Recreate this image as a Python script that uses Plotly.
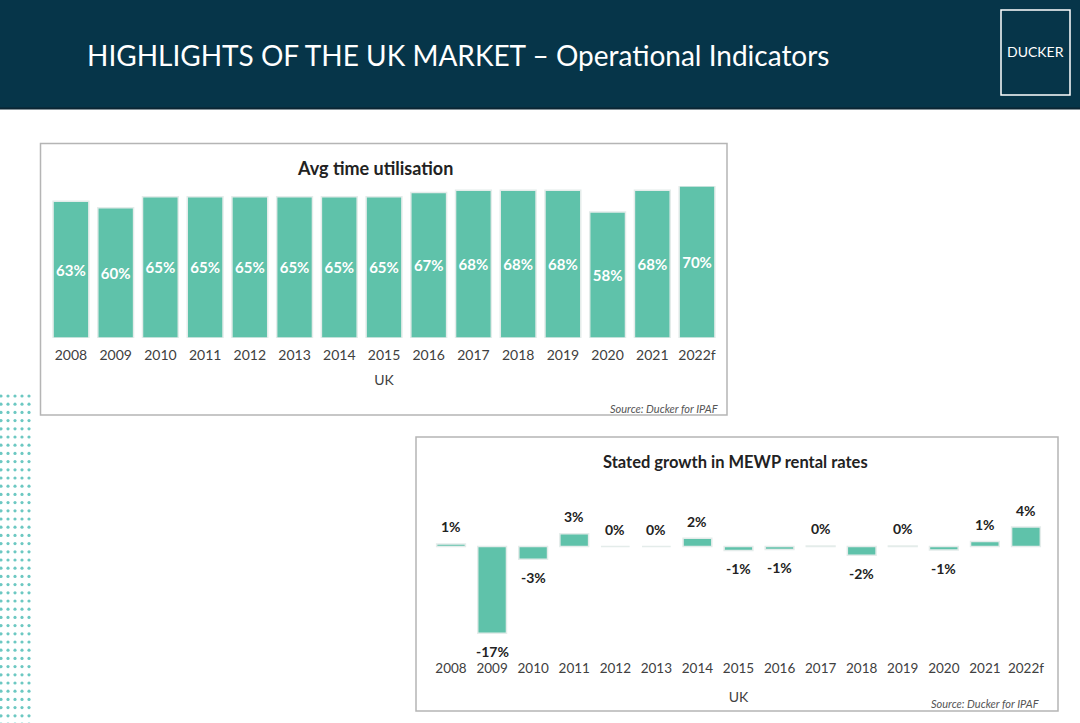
import math
import plotly.graph_objects as go

# ---------------- data ----------------
years = ["2008", "2009", "2010", "2011", "2012", "2013", "2014", "2015",
         "2016", "2017", "2018", "2019", "2020", "2021", "2022f"]
utilisation = [63, 60, 65, 65, 65, 65, 65, 65, 67, 68, 68, 68, 58, 68, 70]
rental_growth = [0.5, -17, -2.5, 2.5, 0, 0, 1.6, -0.8, -0.6, 0.1, -1.7, 0.1, -0.7, 1.0, 3.8]

title_main = "HIGHLIGHTS OF THE UK MARKET – Operational Indicators"
title_top = "Avg time utilisation"
title_bottom = "Stated growth in MEWP rental rates"
source_text = "Source: Ducker for IPAF"

# ---------------- style ----------------
W, H = 1080, 723
FONT = "Lato"
HEADER = "#063549"
BAR = "#5fc2aa"
BAR_EDGE = "#e4ecea"
TXT = "#404040"
DARK = "#222222"


def px(x):
    return x / W


def py(y):
    return 1 - y / H


def pct_label(v):
    r = math.floor(abs(v) + 0.5) * (1 if v >= 0 else -1)
    return f"{r}%"


fig = go.Figure()

# top chart
fig.add_trace(go.Bar(
    x=years, y=utilisation, xaxis="x", yaxis="y", width=0.8,
    marker=dict(color=BAR, line=dict(color=BAR_EDGE, width=1.5)),
    text=[f"{v}%" for v in utilisation], textposition="inside",
    insidetextanchor="middle", textangle=0,
    textfont=dict(family=FONT, size=15, color="white", weight="bold"),
    hoverinfo="x+y", showlegend=False,
))

# bottom chart
fig.add_trace(go.Bar(
    x=years, y=rental_growth, xaxis="x2", yaxis="y2", width=0.7,
    marker=dict(color=BAR, line=dict(color=BAR_EDGE, width=1.5)),
    hoverinfo="x+y", showlegend=False,
))

# decorative dot pattern at the left edge
dot_x, dot_y = [], []
for c in range(5):
    for r in range(41):
        dot_x.append(1 + 7 * c)
        dot_y.append(396 + 8.2 * r)
fig.add_trace(go.Scatter(
    x=dot_x, y=dot_y, xaxis="x3", yaxis="y3", mode="markers",
    marker=dict(size=3.2, color="#6cc8c2"), hoverinfo="skip", showlegend=False,
))

annotations = []
for i, v in enumerate(rental_growth):
    annotations.append(dict(
        x=i, y=v, xref="x2", yref="y2", text=pct_label(v), showarrow=False,
        yshift=17 if v >= 0 else -18, yanchor="middle",
        font=dict(family=FONT, size=14, color=DARK, weight="bold"),
    ))

# header text
annotations += [
    dict(x=px(85), y=py(55), xref="paper", yref="paper", text=title_main,
         showarrow=False, xanchor="left", yanchor="middle",
         font=dict(family=FONT, size=28, color="white")),
    dict(x=px(1035.5), y=py(52), xref="paper", yref="paper", text="DUCKER",
         showarrow=False, xanchor="center", yanchor="middle",
         font=dict(family=FONT, size=14, color="white")),
    dict(x=px(375), y=py(168), xref="paper", yref="paper", text=title_top,
         showarrow=False, xanchor="center", yanchor="middle",
         font=dict(family=FONT, size=18, color=DARK, weight="bold")),
    dict(x=px(735), y=py(462), xref="paper", yref="paper", text=title_bottom,
         showarrow=False, xanchor="center", yanchor="middle",
         font=dict(family=FONT, size=16.5, color=DARK, weight="bold")),
    dict(x=px(720), y=py(408), xref="paper", yref="paper", text=f"<i>{source_text}</i>",
         showarrow=False, xanchor="right", yanchor="middle",
         font=dict(family=FONT, size=11, color="#555555")),
    dict(x=px(1041), y=py(703), xref="paper", yref="paper", text=f"<i>{source_text}</i>",
         showarrow=False, xanchor="right", yanchor="middle",
         font=dict(family=FONT, size=11, color="#555555")),
]

shapes = [
    dict(type="rect", xref="paper", yref="paper", x0=0, x1=1, y0=py(108), y1=1,
         fillcolor=HEADER, line=dict(width=0), layer="below"),
    dict(type="line", xref="paper", yref="paper", x0=0, x1=1, y0=py(108.5), y1=py(108.5),
         line=dict(color="#0b2533", width=2)),
    dict(type="rect", xref="paper", yref="paper", x0=px(1001), x1=px(1070), y0=py(95), y1=py(10),
         line=dict(color="white", width=1.5)),
    dict(type="rect", xref="paper", yref="paper", x0=px(40.5), x1=px(727), y0=py(415), y1=py(143.5),
         line=dict(color="#b5b5b5", width=1.5)),
    dict(type="rect", xref="paper", yref="paper", x0=px(416), x1=px(1058), y0=py(711), y1=py(437),
         line=dict(color="#b5b5b5", width=1.5)),
]

tickfont = dict(family=FONT, size=14, color=TXT)

fig.update_layout(
    width=W, height=H, margin=dict(l=0, r=0, t=0, b=0),
    paper_bgcolor="white", plot_bgcolor="rgba(0,0,0,0)",
    xaxis=dict(domain=[px(48.6), px(719.4)], anchor="y", type="category",
               categoryorder="array", categoryarray=years, range=[-0.5, 14.5],
               showgrid=False, zeroline=False, showline=False, ticks="",
               tickfont=tickfont, ticklabelstandoff=7,
               title=dict(text="UK", font=dict(family=FONT, size=14, color=TXT), standoff=13)),
    yaxis=dict(domain=[py(338), py(186)], anchor="x", range=[0, 70],
               visible=False, fixedrange=True),
    xaxis2=dict(domain=[px(430.5), px(1046.5)], anchor="y2", type="category",
                categoryorder="array", categoryarray=years, range=[-0.5, 14.5],
                showgrid=False, zeroline=False, showline=False, ticks="",
                tickfont=dict(family=FONT, size=13.5, color=TXT), ticklabelstandoff=18,
                title=dict(text="UK", font=dict(family=FONT, size=14, color=TXT), standoff=16)),
    yaxis2=dict(domain=[py(640.85), py(521)], anchor="x2", range=[-18.5, 5],
                visible=False, fixedrange=True),
    xaxis3=dict(domain=[0, px(35)], anchor="y3", range=[0, 35], visible=False),
    yaxis3=dict(domain=[0, py(392)], anchor="x3", range=[723, 392], visible=False),
    annotations=annotations, shapes=shapes,
)

fig.write_html(
    "out.html",
    config={"displayModeBar": False},
    post_script="document.body.style.margin='0';document.body.style.padding='0';"
                "document.body.style.overflow='hidden';",
)
